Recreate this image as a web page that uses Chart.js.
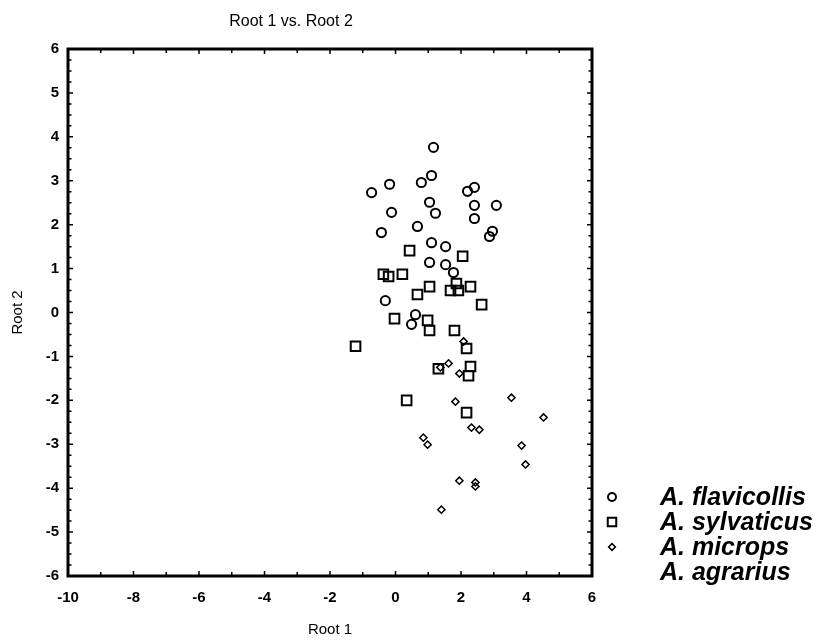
<!DOCTYPE html>
<html>
<head>
<meta charset="utf-8">
<script src="https://cdn.jsdelivr.net/npm/chart.js@4.4.1/dist/chart.umd.min.js"></script>
<style>
	html, body { margin: 0; padding: 0; background: #fff; }
	#scatter { display: block; }
</style>
</head>
<body>
<canvas id="scatter" width="821" height="640"></canvas>
<script>
// discriminant scores
const flavicollisX = [ 1.16, -0.73, -0.18, 0.79, 1.10, 2.20, 2.41, 1.04, 3.08, 2.41, -0.12, 1.22, 2.41, -0.43, 0.67, 2.96, 2.87, 1.10, 1.53, 1.04, 1.53, 1.77, -0.31, 0.61, 0.49 ];
const flavicollisY = [ 3.76, 2.73, 2.92, 2.96, 3.12, 2.76, 2.85, 2.51, 2.44, 2.44, 2.28, 2.26, 2.14, 1.82, 1.96, 1.85, 1.73, 1.59, 1.50, 1.14, 1.09, 0.91, 0.27, -0.05, -0.27 ];
const sylvaticusX = [ 0.43, 2.05, -0.37, -0.21, 0.21, 1.04, 0.67, 1.86, 1.68, 1.92, 2.29, 2.63, -0.03, 0.98, 1.04, 1.80, -1.22, 2.17, 2.29, 2.23, 1.31, 0.34, 2.17 ];
const sylvaticusY = [ 1.41, 1.28, 0.87, 0.82, 0.87, 0.59, 0.41, 0.66, 0.50, 0.50, 0.59, 0.18, -0.14, -0.18, -0.41, -0.41, -0.77, -0.82, -1.23, -1.44, -1.28, -2.00, -2.28 ];
const micropsX = [ 2.08, 1.62, 1.37, 1.95, 3.54, 1.83, 4.52, 2.32, 2.56, 0.85, 0.98, 3.85, 3.97, 1.95, 2.44, 2.44, 1.40 ];
const micropsY = [ -0.66, -1.16, -1.25, -1.39, -1.94, -2.03, -2.39, -2.62, -2.67, -2.85, -3.01, -3.03, -3.46, -3.83, -3.87, -3.96, -4.49 ];
const agrariusX = [];
const agrariusY = [];

const speciesNames = [ 'A. flavicollis', 'A. sylvaticus', 'A. microps', 'A. agrarius' ];
const xTicks = [ -10, -8, -6, -4, -2, 0, 2, 4, 6 ];
const yTicks = [ 6, 5, 4, 3, 2, 1, 0, -1, -2, -3, -4, -5, -6 ];

const toPoints = ( xs, ys ) => xs.map( ( x, i ) => ( { x: x, y: ys[ i ] } ) );

const tickFont = 'bold 15px "Liberation Sans", Arial, sans-serif';

// frame, inward ticks, labels and legend drawn on top of the chart
const framePlugin = {
	id: 'frame',
	afterDraw( chart ) {
		const ctx = chart.ctx;
		const xs = chart.scales.x, ys = chart.scales.y;
		const a = chart.chartArea;
		ctx.save();
		ctx.strokeStyle = '#000';
		ctx.lineWidth = 1.5;
		// x ticks, every unit on top and bottom
		for ( let v = -10; v <= 6; v++ ) {
			const px = xs.getPixelForValue( v );
			const len = v % 2 === 0 ? 5 : 4;
			ctx.beginPath();
			ctx.moveTo( px, a.bottom );
			ctx.lineTo( px, a.bottom - len );
			ctx.moveTo( px, a.top );
			ctx.lineTo( px, a.top + len );
			ctx.stroke();
		}
		// y ticks, every quarter on left and right
		for ( let k = -24; k <= 24; k++ ) {
			const py = ys.getPixelForValue( k / 4 );
			const len = k % 4 === 0 ? 5 : 3.5;
			ctx.beginPath();
			ctx.moveTo( a.left, py );
			ctx.lineTo( a.left + len, py );
			ctx.moveTo( a.right, py );
			ctx.lineTo( a.right - len, py );
			ctx.stroke();
		}
		ctx.lineWidth = 3;
		ctx.strokeRect( a.left, a.top, a.right - a.left, a.bottom - a.top );

		ctx.fillStyle = '#000';
		ctx.font = tickFont;
		ctx.textAlign = 'center';
		ctx.textBaseline = 'middle';
		xTicks.forEach( ( v ) => {
			ctx.fillText( String( v ), xs.getPixelForValue( v ), a.bottom + 22 );
		} );
		ctx.textAlign = 'right';
		yTicks.forEach( ( v ) => {
			ctx.fillText( String( v ), a.left - 9, ys.getPixelForValue( v ) );
		} );

		// titles
		ctx.font = '16px "Liberation Sans", Arial, sans-serif';
		ctx.textAlign = 'center';
		ctx.fillText( 'Root 1 vs. Root 2', 291, 22 );
		ctx.font = '15px "Liberation Sans", Arial, sans-serif';
		ctx.fillText( 'Root 1', 330, 630 );
		ctx.save();
		ctx.translate( 18, ys.getPixelForValue( 0 ) );
		ctx.rotate( -Math.PI / 2 );
		ctx.fillText( 'Root 2', 0, 0 );
		ctx.restore();

		// legend
		const rowY = [ 497, 522, 547, 572 ];
		ctx.font = 'italic bold 25px "Liberation Sans", Arial, sans-serif';
		ctx.textAlign = 'left';
		chart.data.datasets.forEach( ( ds, i ) => {
			const y = rowY[ i ];
			if ( ds.pointStyle ) {
				ctx.save();
				ctx.lineWidth = ds.borderWidth;
				ctx.strokeStyle = '#000';
				ctx.fillStyle = 'rgba(0,0,0,0)';
				Chart.helpers.drawPoint( ctx, {
					pointStyle: ds.pointStyle,
					radius: ds.legendRadius,
					borderWidth: ds.borderWidth,
				}, 612, y );
				ctx.restore();
			}
			ctx.fillText( speciesNames[ i ], 660, y + 1 );
		} );
		ctx.restore();
	},
};

new Chart( document.getElementById( 'scatter' ), {
	type: 'scatter',
	data: {
		datasets: [
			{
				label: speciesNames[ 0 ],
				data: toPoints( flavicollisX, flavicollisY ),
				pointStyle: 'circle',
				pointRadius: 4.6,
				legendRadius: 4,
				borderWidth: 2,
				borderColor: '#000',
				backgroundColor: 'rgba(0,0,0,0)',
			},
			{
				label: speciesNames[ 1 ],
				data: toPoints( sylvaticusX, sylvaticusY ),
				pointStyle: 'rect',
				pointRadius: 6.8,
				legendRadius: 6,
				borderWidth: 2,
				borderColor: '#000',
				backgroundColor: 'rgba(0,0,0,0)',
			},
			{
				label: speciesNames[ 2 ],
				data: toPoints( micropsX, micropsY ),
				pointStyle: 'rectRot',
				pointRadius: 3.6,
				legendRadius: 3.4,
				borderWidth: 1.5,
				borderColor: '#000',
				backgroundColor: 'rgba(0,0,0,0)',
			},
			{
				label: speciesNames[ 3 ],
				data: toPoints( agrariusX, agrariusY ),
				pointStyle: false,
				pointRadius: 0,
				borderWidth: 0,
			},
		],
	},
	options: {
		responsive: false,
		animation: false,
		maintainAspectRatio: false,
		layout: {
			padding: { left: 68, right: 229, top: 49, bottom: 64 },
		},
		plugins: {
			legend: { display: false },
			tooltip: { enabled: false },
		},
		scales: {
			x: { display: false, min: -10, max: 6 },
			y: { display: false, min: -6, max: 6 },
		},
	},
	plugins: [ framePlugin ],
} );
</script>
</body>
</html>
